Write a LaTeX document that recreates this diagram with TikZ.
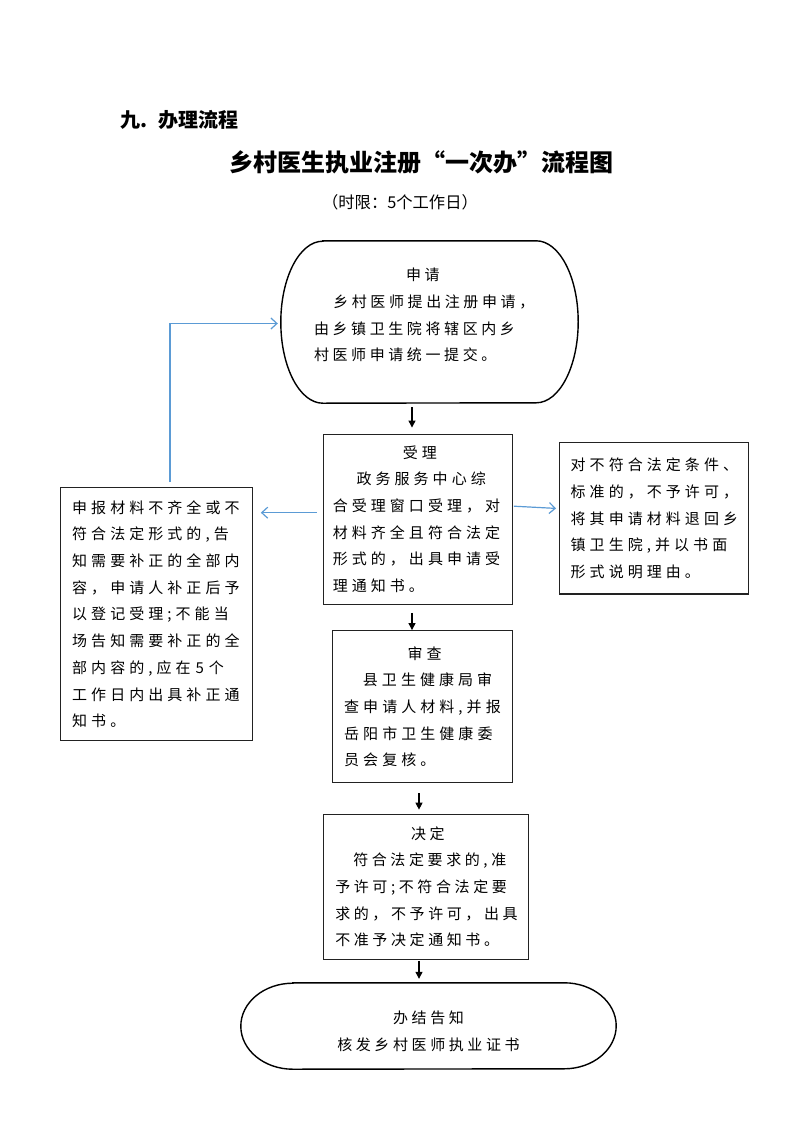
\documentclass[tikz,border=0pt]{standalone}
\usepackage{fontspec}
\setmainfont{Noto Sans CJK SC}
\newfontfamily\bxA[LetterSpace=27]{Noto Sans CJK SC}
\newfontfamily\bxB[LetterSpace=24]{Noto Sans CJK SC}
\usetikzlibrary{arrows.meta}
\definecolor{bluec}{HTML}{5B9BD5}
\definecolor{framec}{HTML}{222222}
\newcommand{\hd}[2]{\makebox[#1]{\hspace{4pt}#2}}
\begin{document}
\begin{tikzpicture}[x=1pt,y=1pt,
  frame/.style={draw=framec, line width=1.3pt, inner sep=0pt, align=left,
    font={\bxA\fontsize{15pt}{26.7pt}\selectfont}},
  frameb/.style={frame, font={\bxB\fontsize{15pt}{26.7pt}\selectfont}},
  term/.style={draw=black, line width=1.4pt},
  txt/.style={inner sep=0pt, align=left, font={\bxB\fontsize{15pt}{26.7pt}\selectfont}},
  blk/.style={-{Triangle[length=7pt,width=7pt]}, line width=1.2pt, draw=black},
  blu/.style={-{Straight Barb[length=6pt,width=11pt]}, line width=1.2pt, draw=bluec}
]
\fill[white] (0,0) rectangle (793,-1122);
\useasboundingbox (0,0) rectangle (793,-1122);

% titles
\node[inner sep=0pt, anchor=west, font={\bfseries\fontsize{20pt}{21pt}\selectfont}] (sec) at (120,-120) {九.\hspace*{11pt}办理流程};
\node[inner sep=0pt, font={\bfseries\fontsize{24pt}{25pt}\selectfont}] (title) at (421,-162) {乡村医生执业注册“一次办”流程图};
\node[inner sep=0pt, font={\fontsize{16.3pt}{17pt}\selectfont}] (limit) at (400,-202.5) {（时限：5个工作日）};

% top terminator
\node[inner sep=0pt, minimum width=297pt, minimum height=162pt] (apply) at (429.5,-322) {};
\draw[term] ([xshift=42pt]apply.north west) -- ([xshift=-42pt]apply.north east)
  arc[start angle=90, end angle=-90, x radius=42pt, y radius=81pt]
  -- ([xshift=42pt]apply.south west)
  arc[start angle=270, end angle=90, x radius=42pt, y radius=81pt] -- cycle;
\node[txt, text width=200pt] (applytxt) at (414,-315) {\hspace*{92pt}申请\\\hspace*{19.3pt}乡村医师提出注册申请，\\由乡镇卫生院将辖区内乡\\村医师申请统一提交。};

% boxes
\node[frame, minimum width=189pt, minimum height=170pt, text width=170pt] (accept) at (417.8,-519.2)
  {\hd{170pt}{受理}\\\hspace*{23.7pt}政务服务中心综\\合受理窗口受理，对\\材料齐全且符合法定\\形式的，出具申请受\\理通知书。};
\node[frame, minimum width=192pt, minimum height=253pt, text width=168pt] (lbox) at (156.2,-614.2)
  {申报材料不齐全或不\\符合法定形式的,告\\知需要补正的全部内\\容，申请人补正后予\\以登记受理;不能当\\场告知需要补正的全\\部内容的,应在 5 个\\工作日内出具补正通\\知书。};
\node[frame, minimum width=189pt, minimum height=151.3pt, text width=167pt] (rbox) at (654.2,-518.4)
  {对不符合法定条件、\\标准的，不予许可，\\将其申请材料退回乡\\镇卫生院,并以书面\\形式说明理由。};
\node[frame, minimum width=180pt, minimum height=152pt, text width=157pt] (review) at (422.7,-706.7)
  {\hd{157pt}{审查}\\\hspace*{18.7pt}县卫生健康局审\\查申请人材料,并报\\岳阳市卫生健康委\\员会复核。};
\node[frameb, minimum width=205pt, minimum height=145pt, text width=181pt] (decide) at (425.8,-886.8)
  {\hd{181pt}{决定}\\\hspace*{18pt}符合法定要求的,准\\予许可;不符合法定要\\求的，不予许可，出具\\不准予决定通知书。};

% bottom terminator
\node[inner sep=0pt, minimum width=375pt, minimum height=86pt] (done) at (428.5,-1026) {};
\draw[term] ([xshift=52pt]done.north west) -- ([xshift=-52pt]done.north east)
  arc[start angle=90, end angle=-90, x radius=52pt, y radius=43pt]
  -- ([xshift=52pt]done.south west)
  arc[start angle=270, end angle=90, x radius=52pt, y radius=43pt] -- cycle;
\node[txt, align=center] (donetxt) at (428.5,-1031.5) {办结告知\\核发乡村医师执业证书};

% black arrows
\draw[blk] ([xshift=-17.5pt,yshift=-4pt]apply.south) -- ([xshift=-5.8pt,yshift=6pt]accept.north);
\draw[blk] ([xshift=-5.8pt,yshift=-8pt]accept.south) -- ([xshift=-10.7pt]review.north);
\draw[blk] ([xshift=-3.7pt,yshift=-10pt]review.south) -- ([xshift=-6.8pt,yshift=4pt]decide.north);
\draw[blk] ([xshift=-6.8pt,yshift=-1pt]decide.south) -- ([xshift=-9.5pt,yshift=4pt]done.north);

% blue arrows
\draw[blu] ([xshift=-6pt,yshift=6.5pt]accept.west) -- ([xshift=8pt,yshift=101.5pt]lbox.east);
\draw[blu] ([xshift=1pt,yshift=13pt]accept.east) -- ([xshift=-3pt,yshift=10pt]rbox.west);
\draw[blu] ([xshift=13.8pt,yshift=5pt]lbox.north) |- ([xshift=-3pt,yshift=-1.5pt]apply.west);
\end{tikzpicture}
\end{document}
